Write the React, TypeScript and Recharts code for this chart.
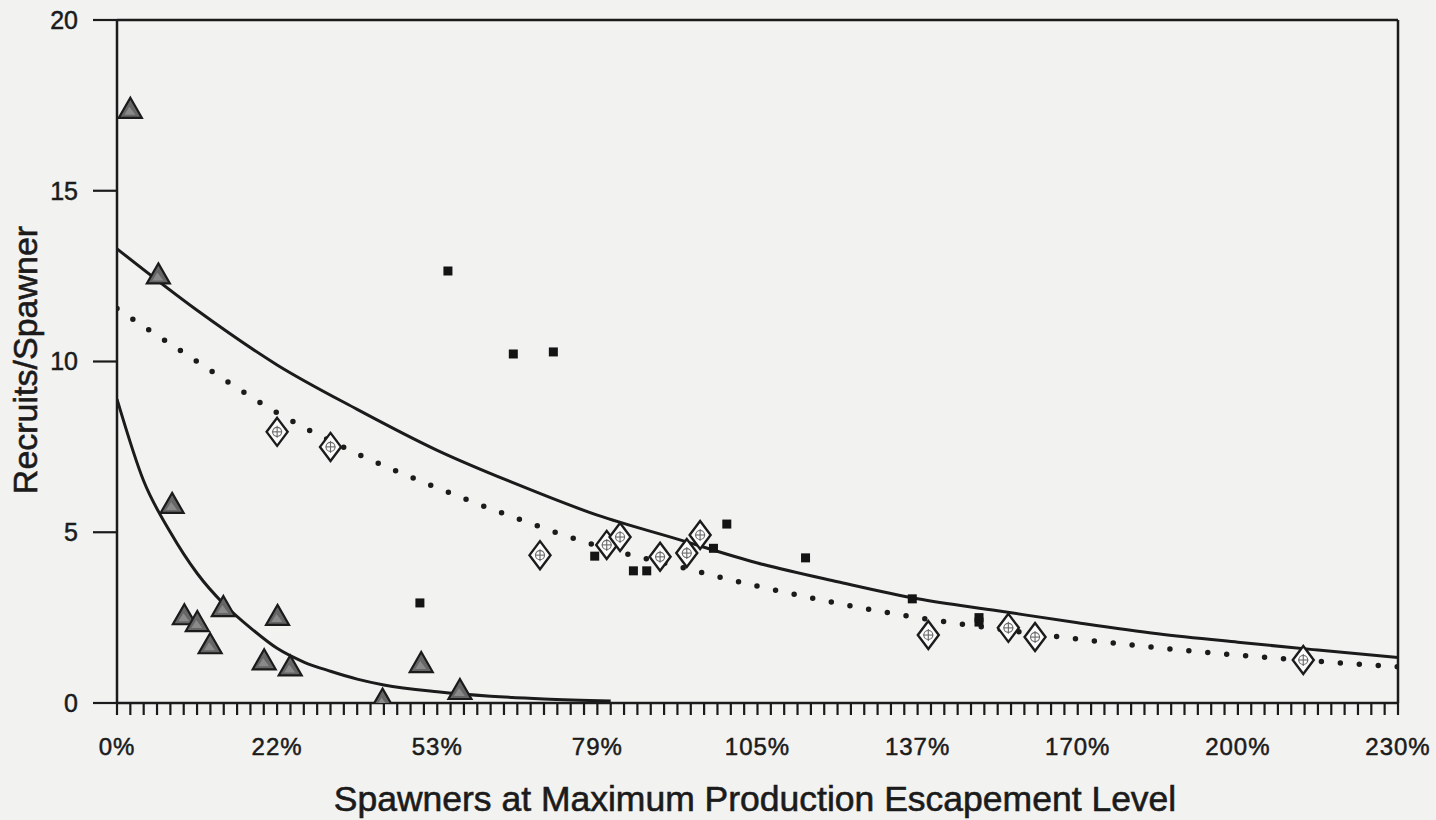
import { ComposedChart, XAxis, YAxis, Line, Scatter, ReferenceLine } from "recharts";

// x positions are in minor-tick units: 96 ticks across, a label every 12th
const xTickLabels = ["0%", "22%", "53%", "79%", "105%", "137%", "170%", "200%", "230%"];
const xTicks = Array.from({ length: 97 }, (_, i) => i);
const yTicks = [0, 5, 10, 15, 20];

const triangleX = [1.0, 3.1, 4.13, 5.05, 6.02, 6.98, 7.97, 11.03, 12.03, 12.98, 19.9, 22.8, 25.7];
const triangleY = [17.4, 12.55, 5.83, 2.57, 2.37, 1.72, 2.81, 1.25, 2.55, 1.07, 0.1, 1.17, 0.38];

const diamondX = [12.0, 16.0, 31.7, 36.7, 37.7, 40.7, 42.7, 43.7, 60.8, 66.8, 68.8, 88.9];
const diamondY = [7.94, 7.5, 4.33, 4.63, 4.86, 4.28, 4.39, 4.92, 1.99, 2.2, 1.93, 1.26];

const squareX = [22.7, 24.8, 29.7, 32.7, 35.8, 38.7, 39.7, 44.7, 45.7, 51.6, 59.6, 64.6, 64.6];
const squareY = [2.93, 12.65, 10.22, 10.28, 4.3, 3.87, 3.87, 4.53, 5.24, 4.25, 3.05, 2.37, 2.5];

// fitted recruitment curves, read at regular tick positions
const upperX = [0, 6, 12, 18, 24, 30, 36, 42, 48, 54, 60, 66, 72, 78, 84, 90, 96];
const upperY = [13.3, 11.5, 9.9, 8.6, 7.4, 6.4, 5.5, 4.8, 4.1, 3.55, 3.05, 2.7, 2.35, 2.03, 1.78, 1.55, 1.33];

const dottedX = [0, 6, 12, 18, 24, 30, 36, 42, 48, 54, 60, 66, 72, 78, 84, 90, 96];
const dottedY = [11.55, 10.0, 8.5, 7.3, 6.3, 5.4, 4.6, 4.0, 3.42, 2.92, 2.5, 2.17, 1.87, 1.62, 1.4, 1.22, 1.06];

const lowerX = [0, 2, 4, 6, 8, 10, 12, 14, 16, 18, 20, 24, 28, 32, 37];
const lowerY = [8.9, 6.5, 5.0, 3.8, 2.9, 2.2, 1.6, 1.2, 0.93, 0.7, 0.53, 0.33, 0.2, 0.12, 0.06];

const zip = (xs: number[], ys: number[]) => xs.map((x, i) => ({ x, y: ys[i] }));

const triangles = zip(triangleX, triangleY);
const diamonds = zip(diamondX, diamondY);
const squares = zip(squareX, squareY);
const upperCurve = zip(upperX, upperY);
const dottedCurve = zip(dottedX, dottedY);
const lowerCurve = zip(lowerX, lowerY);

const INK = "#1b1b1b";
const FONT = "'Liberation Sans', Arial, Helvetica, sans-serif";

const Triangle = ({ cx, cy }: any) => (
  <g>
    <polygon
      points={`${cx},${cy - 11} ${cx + 11.5},${cy + 9} ${cx - 11.5},${cy + 9}`}
      fill="#666"
      stroke={INK}
      strokeWidth={2.2}
    />
    <polygon
      points={`${cx - 1},${cy - 2} ${cx + 5},${cy + 6} ${cx - 6},${cy + 6}`}
      fill="#8a8a8a"
    />
  </g>
);

const Diamond = ({ cx, cy }: any) => (
  <g>
    <polygon
      points={`${cx},${cy - 14} ${cx + 10.5},${cy} ${cx},${cy + 14} ${cx - 10.5},${cy}`}
      fill="#fbfbfb"
      stroke={INK}
      strokeWidth={2.4}
    />
    <circle cx={cx} cy={cy} r={4.5} fill="none" stroke="#6a6a6a" strokeWidth={1.1} />
    <line x1={cx - 5} x2={cx + 5} y1={cy} y2={cy} stroke="#6a6a6a" strokeWidth={1.1} />
    <line x1={cx} x2={cx} y1={cy - 6} y2={cy + 6} stroke="#6a6a6a" strokeWidth={1.1} />
  </g>
);

const Square = ({ cx, cy }: any) => (
  <rect x={cx - 4.5} y={cy - 4.5} width={9} height={9} fill="#141414" />
);

const xLabel = (v: number) => (v % 12 === 0 ? xTickLabels[v / 12] : "");

const tickText = {
  fill: INK,
  stroke: INK,
  strokeWidth: 0.5,
  fontFamily: FONT,
};

export default function App() {
  return (
    <div style={{ position: "absolute", left: 0, top: 0, background: "#f2f2f1" }}>
      <ComposedChart
        width={1436}
        height={820}
        margin={{ top: 20, right: 38, bottom: 0, left: 0 }}
      >
        <XAxis
          type="number"
          dataKey="x"
          domain={[0, 96]}
          ticks={xTicks}
          interval={0}
          tickFormatter={xLabel}
          tickSize={12}
          tickMargin={23}
          height={117}
          axisLine={{ stroke: INK, strokeWidth: 2.5 }}
          tickLine={{ stroke: INK, strokeWidth: 2.2 }}
          tick={{ ...tickText, fontSize: 24, letterSpacing: 1 }}
          allowDataOverflow
          label={{
            content: () => (
              <text
                x={755}
                y={811}
                textAnchor="middle"
                fill={INK}
                stroke={INK}
                strokeWidth={0.6}
                fontSize={35.5}
                fontFamily={FONT}
              >
                Spawners at Maximum Production Escapement Level
              </text>
            ),
          }}
        />
        <YAxis
          type="number"
          domain={[0, 20]}
          ticks={yTicks}
          interval={0}
          width={117}
          tickSize={24}
          tickMargin={15}
          axisLine={{ stroke: INK, strokeWidth: 2.5 }}
          tickLine={{ stroke: INK, strokeWidth: 2.2 }}
          tick={{ ...tickText, fontSize: 25 }}
          allowDataOverflow
          label={{
            content: () => (
              <text
                x={37}
                y={360}
                transform="rotate(-90 37 360)"
                textAnchor="middle"
                fill={INK}
                stroke={INK}
                strokeWidth={0.6}
                fontSize={34}
                fontFamily={FONT}
              >
                Recruits/Spawner
              </text>
            ),
          }}
        />
        <ReferenceLine y={20} stroke={INK} strokeWidth={2.5} />
        <ReferenceLine x={96} stroke={INK} strokeWidth={2.5} />

        <Line
          data={upperCurve}
          dataKey="y"
          type="monotone"
          stroke={INK}
          strokeWidth={3}
          dot={false}
          activeDot={false}
          isAnimationActive={false}
        />
        <Line
          data={dottedCurve}
          dataKey="y"
          type="monotone"
          stroke={INK}
          strokeWidth={5.5}
          strokeDasharray="0 19"
          strokeLinecap="round"
          dot={false}
          activeDot={false}
          isAnimationActive={false}
        />
        <Line
          data={lowerCurve}
          dataKey="y"
          type="monotone"
          stroke={INK}
          strokeWidth={3}
          dot={false}
          activeDot={false}
          isAnimationActive={false}
        />

        <Scatter data={squares} dataKey="y" shape={Square} isAnimationActive={false} />
        <Scatter data={triangles} dataKey="y" shape={Triangle} isAnimationActive={false} />
        <Scatter data={diamonds} dataKey="y" shape={Diamond} isAnimationActive={false} />
      </ComposedChart>
    </div>
  );
}
